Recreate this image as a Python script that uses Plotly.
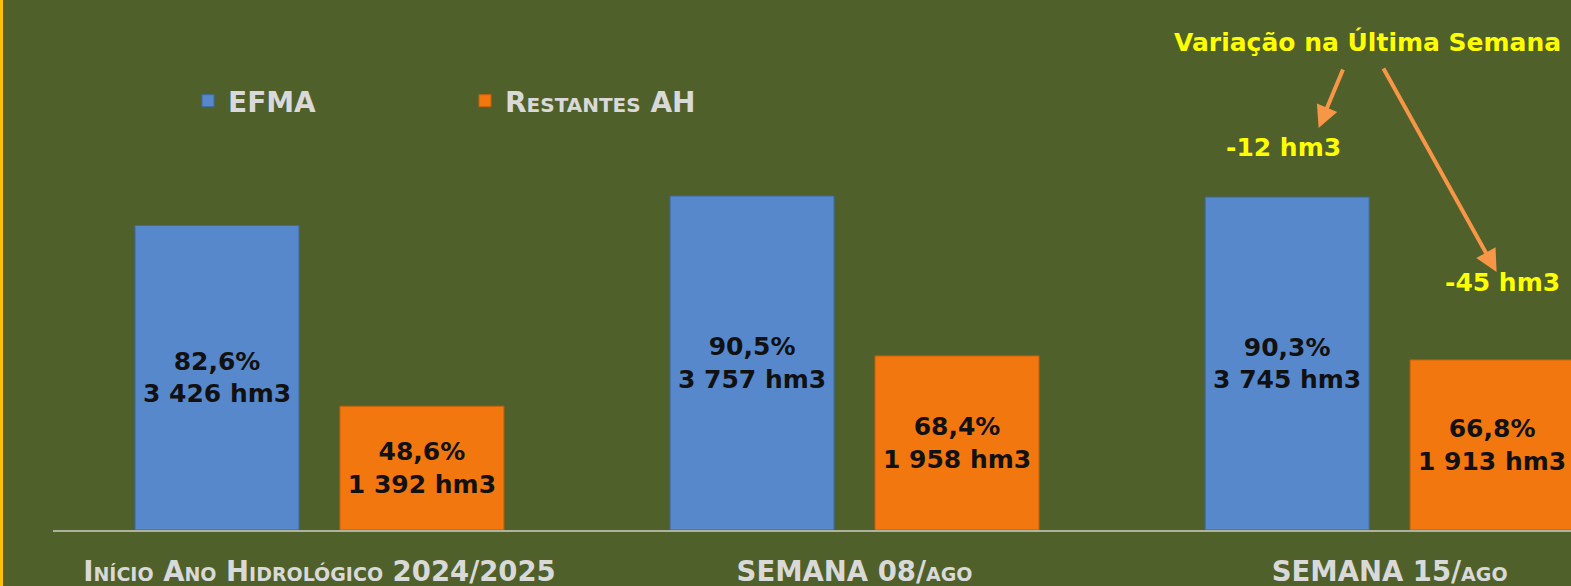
import plotly.graph_objects as go

categories = ["Início Ano Hidrológico 2024/2025", "SEMANA 08/ago", "SEMANA 15/ago"]
efma_hm3 = [3426, 3757, 3745]
efma_pct = ["82,6%", "90,5%", "90,3%"]
rest_hm3 = [1392, 1958, 1913]
rest_pct = ["48,6%", "68,4%", "66,8%"]
series_names = ["EFMA", "Restantes AH"]
variation_title = "Variação na Última Semana"
variation_labels = ["-12 hm3", "-45 hm3"]

BG = "#50602A"
BLUE = "#5788CC"
ORANGE = "#F2770F"
LIGHT = "#D9D9D9"
YELLOW = "#FFFF00"
ARROW = "#F79646"
FONT = "DejaVu Sans"


def fmt_hm3(v):
    return f"{v:,}".replace(",", " ") + " hm3"


efma_text = [f"{p}<br>{fmt_hm3(v)}" for p, v in zip(efma_pct, efma_hm3)]
rest_text = [f"{p}<br>{fmt_hm3(v)}" for p, v in zip(rest_pct, rest_hm3)]

fig = go.Figure()
fig.add_trace(go.Bar(
    x=categories, y=efma_hm3, name=series_names[0], text=efma_text,
    textposition="inside", insidetextanchor="middle", textangle=0,
    marker=dict(color=BLUE, line=dict(color="#3D6AA8", width=1)),
    textfont=dict(family=FONT, size=25, color="#111111", weight="bold"),
    legend="legend",
))
fig.add_trace(go.Bar(
    x=categories, y=rest_hm3, name=series_names[1], text=rest_text,
    textposition="inside", insidetextanchor="middle", textangle=0,
    marker=dict(color=ORANGE, line=dict(color="#C9600A", width=1)),
    textfont=dict(family=FONT, size=25, color="#111111", weight="bold"),
    legend="legend2",
))

W, H = 1571, 586
ML, MB = 53, 56
PW, PH = W - ML, H - MB

def px_x(p):
    return (p - ML) / PW

def px_y(p):
    return (H - MB - p) / PH

legend_font = dict(family=FONT, size=28, color=LIGHT, weight="bold", variant="small-caps")
fig.update_layout(
    width=W, height=H,
    margin=dict(l=ML, r=0, t=0, b=MB, autoexpand=False),
    paper_bgcolor=BG, plot_bgcolor=BG,
    barmode="group", bargap=0.234, bargroupgap=0.2,
    showlegend=True,
    legend=dict(x=px_x(188), y=px_y(101),
                xanchor="left", yanchor="middle", orientation="h",
                font=legend_font, bgcolor="rgba(0,0,0,0)"),
    legend2=dict(x=px_x(465), y=px_y(101),
                 xanchor="left", yanchor="middle", orientation="h",
                 font=legend_font, bgcolor="rgba(0,0,0,0)"),
    xaxis=dict(
        type="category", range=[-0.498, 2.339],
        showline=True, linecolor="#AEB39E", linewidth=2,
        showgrid=False, zeroline=False, ticks="",
        ticklabelstandoff=16,
        tickfont=dict(family=FONT, size=27.5, color=LIGHT, weight="bold", variant="small-caps"),
    ),
    yaxis=dict(range=[0, 5962], visible=False, showgrid=False, zeroline=False),
    shapes=[dict(type="rect", xref="paper", yref="paper",
                 x0=px_x(0), x1=px_x(3), y0=px_y(H), y1=px_y(0),
                 fillcolor="#FFC000", line=dict(width=0))],
)

ann_font = dict(family=FONT, size=25, color=YELLOW, weight="bold")
cat3 = categories[2]
fig.add_annotation(x=px_x(1367), y=px_y(42), xref="paper", yref="paper",
                   xanchor="center", yanchor="middle",
                   text=variation_title, showarrow=False, font=ann_font)
fig.add_annotation(x=cat3, y=efma_hm3[2], xref="x", yref="y", xshift=-106, yshift=50,
                   xanchor="center", yanchor="middle",
                   text=variation_labels[0], showarrow=False, font=ann_font)
fig.add_annotation(x=cat3, y=rest_hm3[2], xref="x", yref="y", xshift=113, yshift=77,
                   xanchor="center", yanchor="middle",
                   text=variation_labels[1], showarrow=False, font=ann_font)
# arrows
fig.add_annotation(x=cat3, y=efma_hm3[2], xref="x", yref="y", xshift=-71, yshift=69,
                   text="", showarrow=True, ax=25, ay=-60,
                   arrowcolor=ARROW, arrowwidth=4, arrowhead=2, arrowsize=1.1)
fig.add_annotation(x=cat3, y=rest_hm3[2], xref="x", yref="y", xshift=107, yshift=88,
                   text="", showarrow=True, ax=-114, ay=-205,
                   arrowcolor=ARROW, arrowwidth=4, arrowhead=2, arrowsize=1.1)

fig.write_html("out.html", config={"displayModeBar": False},
               post_script="document.body.style.margin='0';document.body.style.overflow='hidden';")
